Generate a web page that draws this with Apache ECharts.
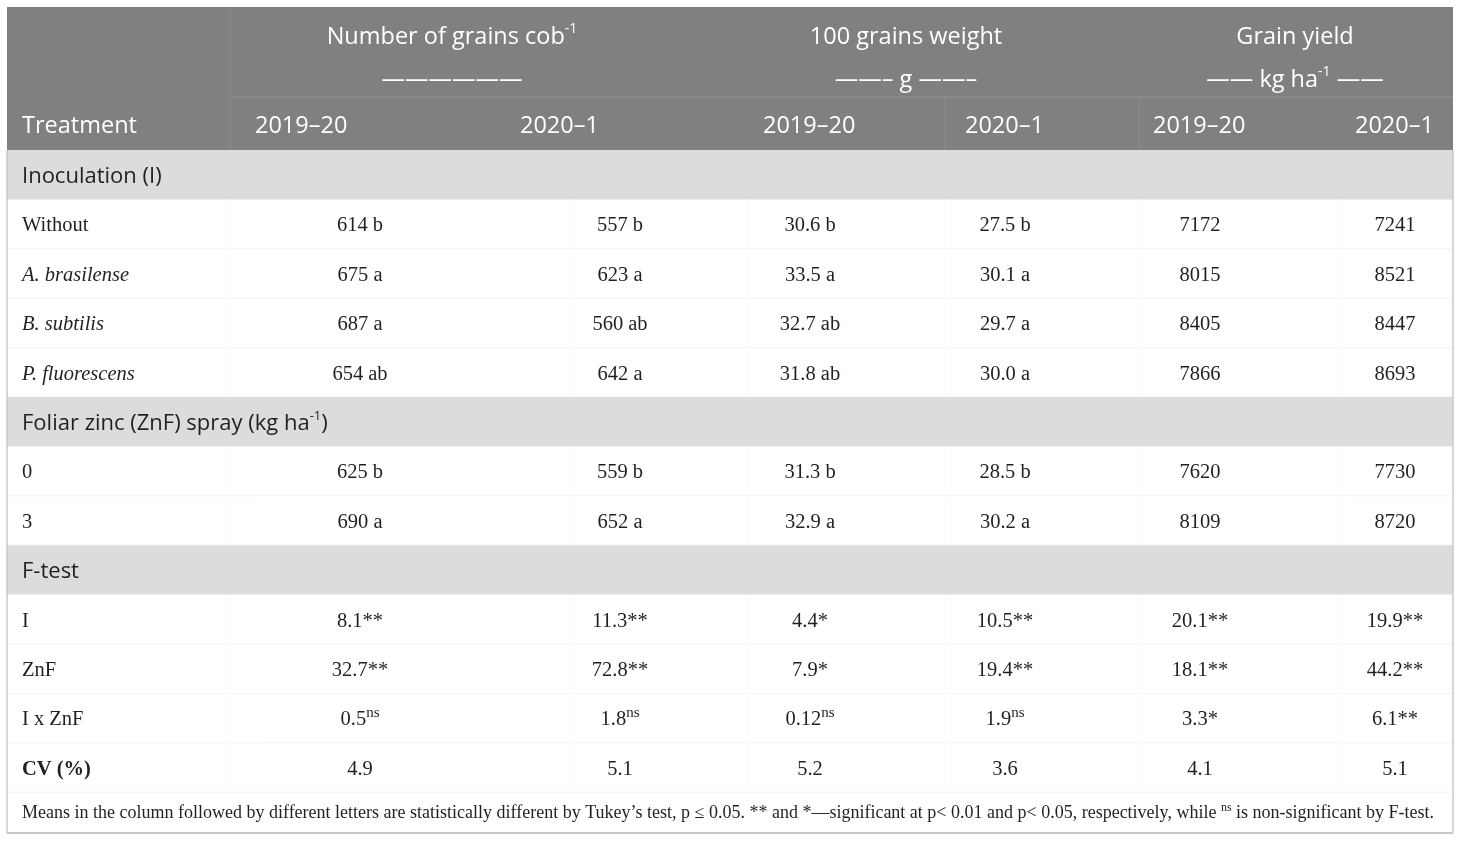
<!DOCTYPE html>
<html>
<head>
<meta charset="utf-8">
<script src="https://cdn.jsdelivr.net/npm/echarts@6/dist/echarts.min.js"></script>
<style>
html, body { margin: 0; padding: 0; background: #fff; }
#chart { width: 1460px; height: 842px; }
</style>
</head>
<body>
<div id="chart"></div>
<script>
// header texts ({sup|..} = superscript)
var groupTitles = ['Number of grains cob{sup|-1}', '100 grains weight', 'Grain yield'];
var groupUnits = ['——————', '——– g ——–', '—— kg ha{sup|-1} ——'];
var seasons = ['2019–20', '2020–1', '2019–20', '2020–1', '2019–20', '2020–1'];
var firstHead = 'Treatment';

// body
var sections = ['Inoculation (I)', 'Foliar zinc (ZnF) spray (kg ha{sup|-1})', 'F-test'];
var inoculants = ['Without', 'A. brasilense', 'B. subtilis', 'P. fluorescens'];
var inoculantItalic = [false, true, true, true];
var inoculationValues = [
    ['614 b', '557 b', '30.6 b', '27.5 b', '7172', '7241'],
    ['675 a', '623 a', '33.5 a', '30.1 a', '8015', '8521'],
    ['687 a', '560 ab', '32.7 ab', '29.7 a', '8405', '8447'],
    ['654 ab', '642 a', '31.8 ab', '30.0 a', '7866', '8693']
];
var zincDoses = ['0', '3'];
var zincValues = [
    ['625 b', '559 b', '31.3 b', '28.5 b', '7620', '7730'],
    ['690 a', '652 a', '32.9 a', '30.2 a', '8109', '8720']
];
var fTerms = ['I', 'ZnF', 'I x ZnF'];
var fValues = [
    ['8.1**', '11.3**', '4.4*', '10.5**', '20.1**', '19.9**'],
    ['32.7**', '72.8**', '7.9*', '19.4**', '18.1**', '44.2**'],
    ['0.5{sup|ns}', '1.8{sup|ns}', '0.12{sup|ns}', '1.9{sup|ns}', '3.3*', '6.1**']
];
var cvLabel = 'CV (%)';
var cvValues = ['4.9', '5.1', '5.2', '3.6', '4.1', '5.1'];
var footnote = 'Means in the column followed by different letters are statistically different by Tukey’s test, p ≤ 0.05. ** and *—significant at p< 0.01 and p< 0.05, respectively, while {sup|ns} is non-significant by F-test.';

// layout (pixels)
var W = 1460, H = 842;
var tLeft = 7, tRight = 1453, tTop = 7, tBottom = 833;
var headSplit = 97, headBottom = 150, rowH = 49.4;
var labelX = 22, textDy = 2;
var valueX = [360, 620, 810, 1005, 1200, 1395];
var seasonX = [255, 520, 763, 965, 1153, 1355];
var groupX = [452, 906, 1295];
var bodyCols = [230, 570, 748, 945, 1139, 1338];

var SANS = '"Open Sans", "Noto Sans", sans-serif';
var SERIF = '"Liberation Serif", "DejaVu Serif", serif';

// rows of the body
var rows = [];
rows.push({ kind: 'section', label: sections[0] });
inoculants.forEach(function (n, i) {
    rows.push({ kind: 'data', label: n, italic: inoculantItalic[i], values: inoculationValues[i] });
});
rows.push({ kind: 'section', label: sections[1] });
zincDoses.forEach(function (n, i) {
    rows.push({ kind: 'data', label: n, values: zincValues[i] });
});
rows.push({ kind: 'section', label: sections[2] });
fTerms.forEach(function (n, i) {
    rows.push({ kind: 'data', label: n, values: fValues[i] });
});
rows.push({ kind: 'data', label: cvLabel, bold: true, values: cvValues });
var footTop = headBottom + rows.length * rowH;

function txt(p, text, o) {
    var lh = o.lineHeight || o.size + 2;
    var ss = o.supSize || Math.round(o.size * 0.6);
    return {
        type: 'text', x: p[0], y: p[1],
        style: {
            text: text,
            fontFamily: o.family, fontSize: o.size,
            fontStyle: o.italic ? 'italic' : 'normal',
            fontWeight: o.bold ? 'bold' : 'normal',
            fill: o.color, align: o.align || 'left', verticalAlign: 'middle',
            lineHeight: lh,
            rich: { sup: { fontSize: ss, fontFamily: o.family, fill: o.color, verticalAlign: 'top', lineHeight: ss } }
        }
    };
}

function rect(api, x0, y0, x1, y1, fill) {
    var a = api.coord([x0, y0]), b = api.coord([x1, y1]);
    return { type: 'rect', shape: { x: a[0], y: a[1], width: b[0] - a[0], height: b[1] - a[1] }, style: { fill: fill } };
}

function line(api, x0, y0, x1, y1, color, w) {
    var a = api.coord([x0, y0]), b = api.coord([x1, y1]);
    return { type: 'line', shape: { x1: a[0], y1: a[1], x2: b[0], y2: b[1] }, style: { stroke: color, lineWidth: w || 1 } };
}

function renderHeader(params, api) {
    var ch = [];
    ch.push(rect(api, tLeft, tTop, tRight, headBottom, '#808080'));
    ch.push(line(api, 230, headSplit, tRight, headSplit, '#919191', 1));
    ch.push(line(api, 230, tTop, 230, headBottom, '#8c8c8c', 1));
    ch.push(line(api, 945, headSplit, 945, headBottom, '#8c8c8c', 1));
    ch.push(line(api, 1139, headSplit, 1139, headBottom, '#8c8c8c', 1));
    var o = { family: SANS, size: 23.5, color: '#ffffff', align: 'center', supSize: 14, lineHeight: 30 };
    groupTitles.forEach(function (t, i) {
        ch.push(txt(api.coord([groupX[i], 37]), t, o));
        ch.push(txt(api.coord([groupX[i], 80]), groupUnits[i], o));
    });
    var o2 = { family: SANS, size: 23.5, color: '#ffffff' };
    ch.push(txt(api.coord([labelX, 126]), firstHead, o2));
    seasons.forEach(function (s, i) {
        ch.push(txt(api.coord([seasonX[i], 126]), s, o2));
    });
    return { type: 'group', children: ch };
}

function renderRow(params, api) {
    var i = api.value(0);
    var r = rows[i];
    var y0 = headBottom + i * rowH, y1 = y0 + rowH, yc = y0 + rowH / 2 + textDy;
    var ch = [];
    if (r.kind === 'section') {
        ch.push(rect(api, tLeft, y0, tRight, y1, '#dcdcdc'));
        ch.push(txt(api.coord([labelX, yc]), r.label, { family: SANS, size: 22, color: '#231f20', supSize: 13, lineHeight: 28 }));
    } else {
        ch.push(line(api, tLeft, y1, tRight, y1, '#f2f2f2', 1));
        bodyCols.forEach(function (x) {
            ch.push(line(api, x, y0, x, y1, '#fafafa', 1));
        });
        ch.push(txt(api.coord([labelX, yc]), r.label, { family: SERIF, size: 20.5, color: '#231f20', italic: r.italic, bold: r.bold }));
        r.values.forEach(function (v, k) {
            ch.push(txt(api.coord([valueX[k], yc]), v, { family: SERIF, size: 20.5, color: '#231f20', align: 'center', supSize: 15, lineHeight: 30 }));
        });
    }
    return { type: 'group', children: ch };
}

function renderFrame(params, api) {
    var ch = [];
    ch.push(txt(api.coord([labelX, (footTop + tBottom) / 2 + 1]), footnote, { family: SERIF, size: 18, color: '#231f20', supSize: 12, lineHeight: 24 }));
    ch.push(line(api, tLeft, headBottom, tLeft, tBottom, '#c8c8c8', 1.5));
    ch.push(line(api, tRight, headBottom, tRight, tBottom, '#c8c8c8', 1.5));
    ch.push(line(api, tLeft, tBottom, tRight, tBottom, '#c8c8c8', 2));
    return { type: 'group', children: ch };
}

var chart = echarts.init(document.getElementById('chart'));
var option = {
    animation: false,
    grid: { left: 0, right: 0, top: 0, bottom: 0 },
    xAxis: { type: 'value', min: 0, max: W, show: false },
    yAxis: { type: 'value', min: 0, max: H, inverse: true, show: false },
    series: [
        { type: 'custom', coordinateSystem: 'cartesian2d', renderItem: renderHeader, data: [[0]], silent: true },
        { type: 'custom', coordinateSystem: 'cartesian2d', renderItem: renderRow, data: rows.map(function (r, i) { return [i]; }), silent: true },
        { type: 'custom', coordinateSystem: 'cartesian2d', renderItem: renderFrame, data: [[0]], silent: true }
    ]
};
chart.setOption(option);
</script>
</body>
</html>
